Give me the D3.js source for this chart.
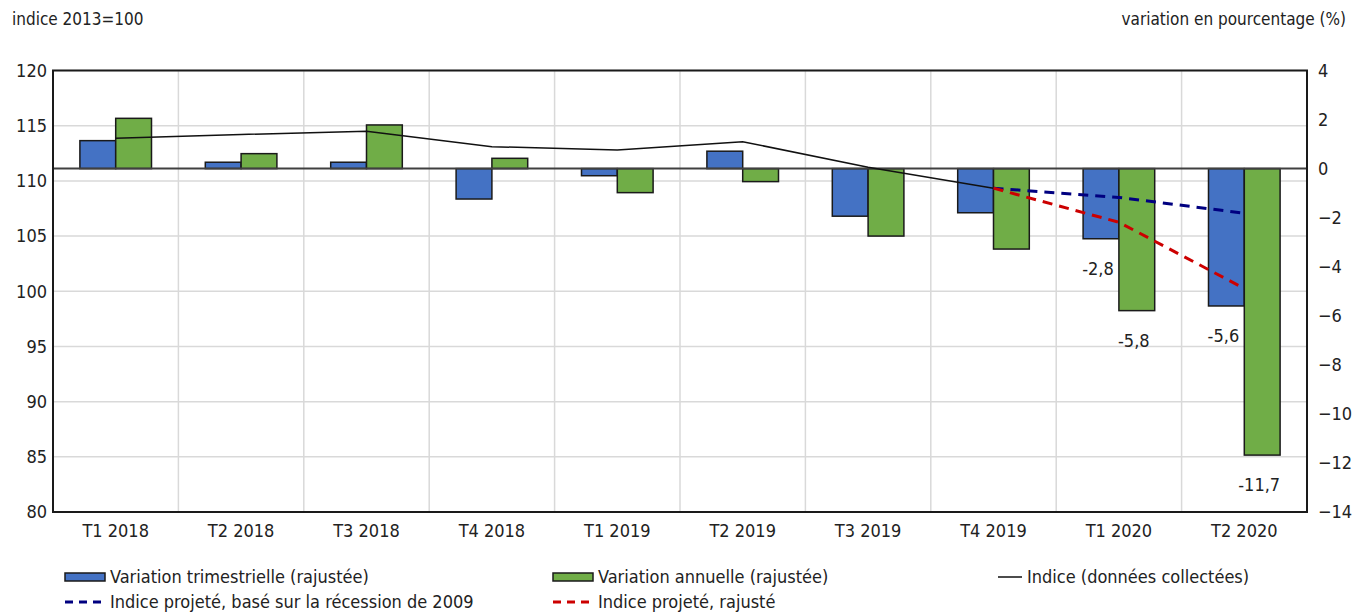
<!DOCTYPE html>
<html>
<head>
<meta charset="utf-8">
<script src="https://cdn.jsdelivr.net/npm/d3@7"></script>
<style>
  body { margin: 0; background: #fff; }
  text { font-family: "Liberation Sans Narrow", "DejaVu Sans Condensed", Roboto, sans-serif; fill: #222; }
</style>
</head>
<body>
<div id="chart"></div>
<script>
// data
var categories = ["T1 2018", "T2 2018", "T3 2018", "T4 2018", "T1 2019", "T2 2019", "T3 2019", "T4 2019", "T1 2020", "T2 2020"];
var quarterly = [1.14, 0.26, 0.26, -1.24, -0.29, 0.71, -1.94, -1.8, -2.86, -5.6];
var annual = [2.05, 0.61, 1.78, 0.42, -0.98, -0.53, -2.75, -3.28, -5.79, -11.68];
var indexCollected = [113.86, 114.2, 114.5, 113.1, 112.8, 113.55, 111.23, 109.34];
var projCategories = ["T4 2019", "T1 2020", "T2 2020"];
var proj2009 = [109.34, 108.5, 107.07];
var projAdjusted = [109.34, 106.25, 100.25];
var leftTicks = [80, 85, 90, 95, 100, 105, 110, 115, 120];
var rightTicks = [-14, -12, -10, -8, -6, -4, -2, 0, 2, 4];
var labelled = [
  {cat: "T1 2020", series: "q", text: "-2,8"},
  {cat: "T1 2020", series: "a", text: "-5,8"},
  {cat: "T2 2020", series: "q", text: "-5,6"},
  {cat: "T2 2020", series: "a", text: "-11,7"}
];

var svgWidth = 1361;
var svgHeight = 615;
var margin = {top: 70.5, right: 54, bottom: 103, left: 53};
var width = svgWidth - margin.left - margin.right;
var height = svgHeight - margin.top - margin.bottom;

var blue = "#4472C4", green = "#70AD47";

var svg = d3.select("#chart").append("svg")
  .attr("width", svgWidth)
  .attr("height", svgHeight);

var g = svg.append("g")
  .attr("transform", `translate(${margin.left}, ${margin.top})`);

var x = d3.scaleBand().domain(categories).range([0, width]);
var x1 = d3.scaleBand().domain(["q", "a"]).range([0, x.bandwidth() * 0.571])
  .paddingInner(0);
var yL = d3.scaleLinear().domain([80, 120]).range([height, 0]);
var yR = d3.scaleLinear().domain([-14, 4]).range([height, 0]);
var off = (x.bandwidth() - x1.range()[1]) / 2;

// gridlines
g.selectAll(".hgrid").data(leftTicks).enter().append("line")
  .attr("x1", 0).attr("x2", width)
  .attr("y1", d => yL(d)).attr("y2", d => yL(d))
  .attr("stroke", "#d9d9d9").attr("stroke-width", 1.5);

g.selectAll(".vgrid").data(categories.slice(1)).enter().append("line")
  .attr("x1", d => x(d)).attr("x2", d => x(d))
  .attr("y1", 0).attr("y2", height)
  .attr("stroke", "#d9d9d9").attr("stroke-width", 1.5);

// bars
var rows = categories.map((c, i) => ({cat: c, q: quarterly[i], a: annual[i]}));
var grp = g.selectAll(".cat").data(rows).enter().append("g")
  .attr("transform", d => `translate(${x(d.cat) + off},0)`);

grp.selectAll("rect").data(d => ["q", "a"].map(k => ({k: k, v: d[k]}))).enter().append("rect")
  .attr("x", d => x1(d.k))
  .attr("width", x1.bandwidth())
  .attr("y", d => yR(Math.max(0, d.v)))
  .attr("height", d => Math.abs(yR(d.v) - yR(0)))
  .attr("fill", d => d.k == "q" ? blue : green)
  .attr("stroke", "#1a1a1a")
  .attr("stroke-width", 1.5);

// zero line
g.append("line")
  .attr("x1", 0).attr("x2", width)
  .attr("y1", yR(0)).attr("y2", yR(0))
  .attr("stroke", "#404040").attr("stroke-width", 2);

// index line
var cx = d => x(d) + x.bandwidth() / 2;
var line = d3.line().x(d => cx(d[0])).y(d => yL(d[1]));
g.append("path")
  .datum(indexCollected.map((v, i) => [categories[i], v]))
  .attr("d", line).attr("fill", "none")
  .attr("stroke", "#111").attr("stroke-width", 1.5);

g.append("path")
  .datum(proj2009.map((v, i) => [projCategories[i], v]))
  .attr("d", line).attr("fill", "none")
  .attr("stroke", "#000080").attr("stroke-width", 3)
  .attr("stroke-dasharray", "10,7");

g.append("path")
  .datum(projAdjusted.map((v, i) => [projCategories[i], v]))
  .attr("d", line).attr("fill", "none")
  .attr("stroke", "#cc0000").attr("stroke-width", 3)
  .attr("stroke-dasharray", "10,7");

// value labels
g.selectAll(".vlabel").data(labelled).enter().append("text")
  .attr("x", d => x(d.cat) + off + x1(d.series) + x1.bandwidth() / 2 - 3)
  .attr("y", d => {
    var i = categories.indexOf(d.cat);
    var v = d.series == "q" ? quarterly[i] : annual[i];
    return yR(v) + 36;
  })
  .attr("text-anchor", "middle")
  .style("font-size", "18px")
  .text(d => d.text);

// frame
g.append("rect")
  .attr("width", width).attr("height", height)
  .attr("fill", "none").attr("stroke", "#1a1a1a").attr("stroke-width", 2);

// axes
var leftAxis = d3.axisLeft(yL).tickValues(leftTicks).tickSize(0).tickPadding(6);
var rightAxis = d3.axisRight(yR).tickValues(rightTicks).tickSize(0).tickPadding(11);
var bottomAxis = d3.axisBottom(x).tickSize(0).tickPadding(12);

var la = g.append("g").call(leftAxis);
var ra = g.append("g").attr("transform", `translate(${width},0)`).call(rightAxis);
var ba = g.append("g").attr("transform", `translate(0,${height})`).call(bottomAxis);
[la, ra, ba].forEach(a => {
  a.select(".domain").remove();
  a.selectAll("text").style("font-size", "18px").attr("fill", "#222")
    .style("font-family", '"Liberation Sans Narrow", "DejaVu Sans Condensed", Roboto, sans-serif');
});

// axis titles
svg.append("text").attr("x", 12).attr("y", 25)
  .style("font-size", "17px").text("indice 2013=100");
svg.append("text").attr("x", 1346).attr("y", 25).attr("text-anchor", "end")
  .style("font-size", "17px").text("variation en pourcentage (%)");

// legend
var legend = [
  {label: "Variation trimestrielle (rajustée)", type: "rect", color: blue, x: 65, y: 577},
  {label: "Variation annuelle (rajustée)", type: "rect", color: green, x: 553, y: 577},
  {label: "Indice (données collectées)", type: "line", color: "#111", x: 998, y: 577},
  {label: "Indice projeté, basé sur la récession de 2009", type: "dash", color: "#000080", x: 65, y: 602},
  {label: "Indice projeté, rajusté", type: "dash", color: "#cc0000", x: 553, y: 602}
];
var lg = svg.selectAll(".leg").data(legend).enter().append("g")
  .attr("transform", d => `translate(${d.x},${d.y})`);
lg.filter(d => d.type == "rect").append("rect")
  .attr("x", 0).attr("y", -4).attr("width", 40).attr("height", 8)
  .attr("fill", d => d.color).attr("stroke", "#1a1a1a").attr("stroke-width", 1.5);
lg.filter(d => d.type == "line").append("line")
  .attr("x1", 0).attr("x2", 24).attr("y1", 0).attr("y2", 0)
  .attr("stroke", d => d.color).attr("stroke-width", 1.5);
lg.filter(d => d.type == "dash").append("line")
  .attr("x1", 0).attr("x2", 40).attr("y1", 0).attr("y2", 0)
  .attr("stroke", d => d.color).attr("stroke-width", 3)
  .attr("stroke-dasharray", "8,6");
lg.append("text")
  .attr("x", d => d.type == "line" ? 29 : 45)
  .attr("y", 6)
  .style("font-size", "18px")
  .text(d => d.label);
</script>
</body>
</html>
